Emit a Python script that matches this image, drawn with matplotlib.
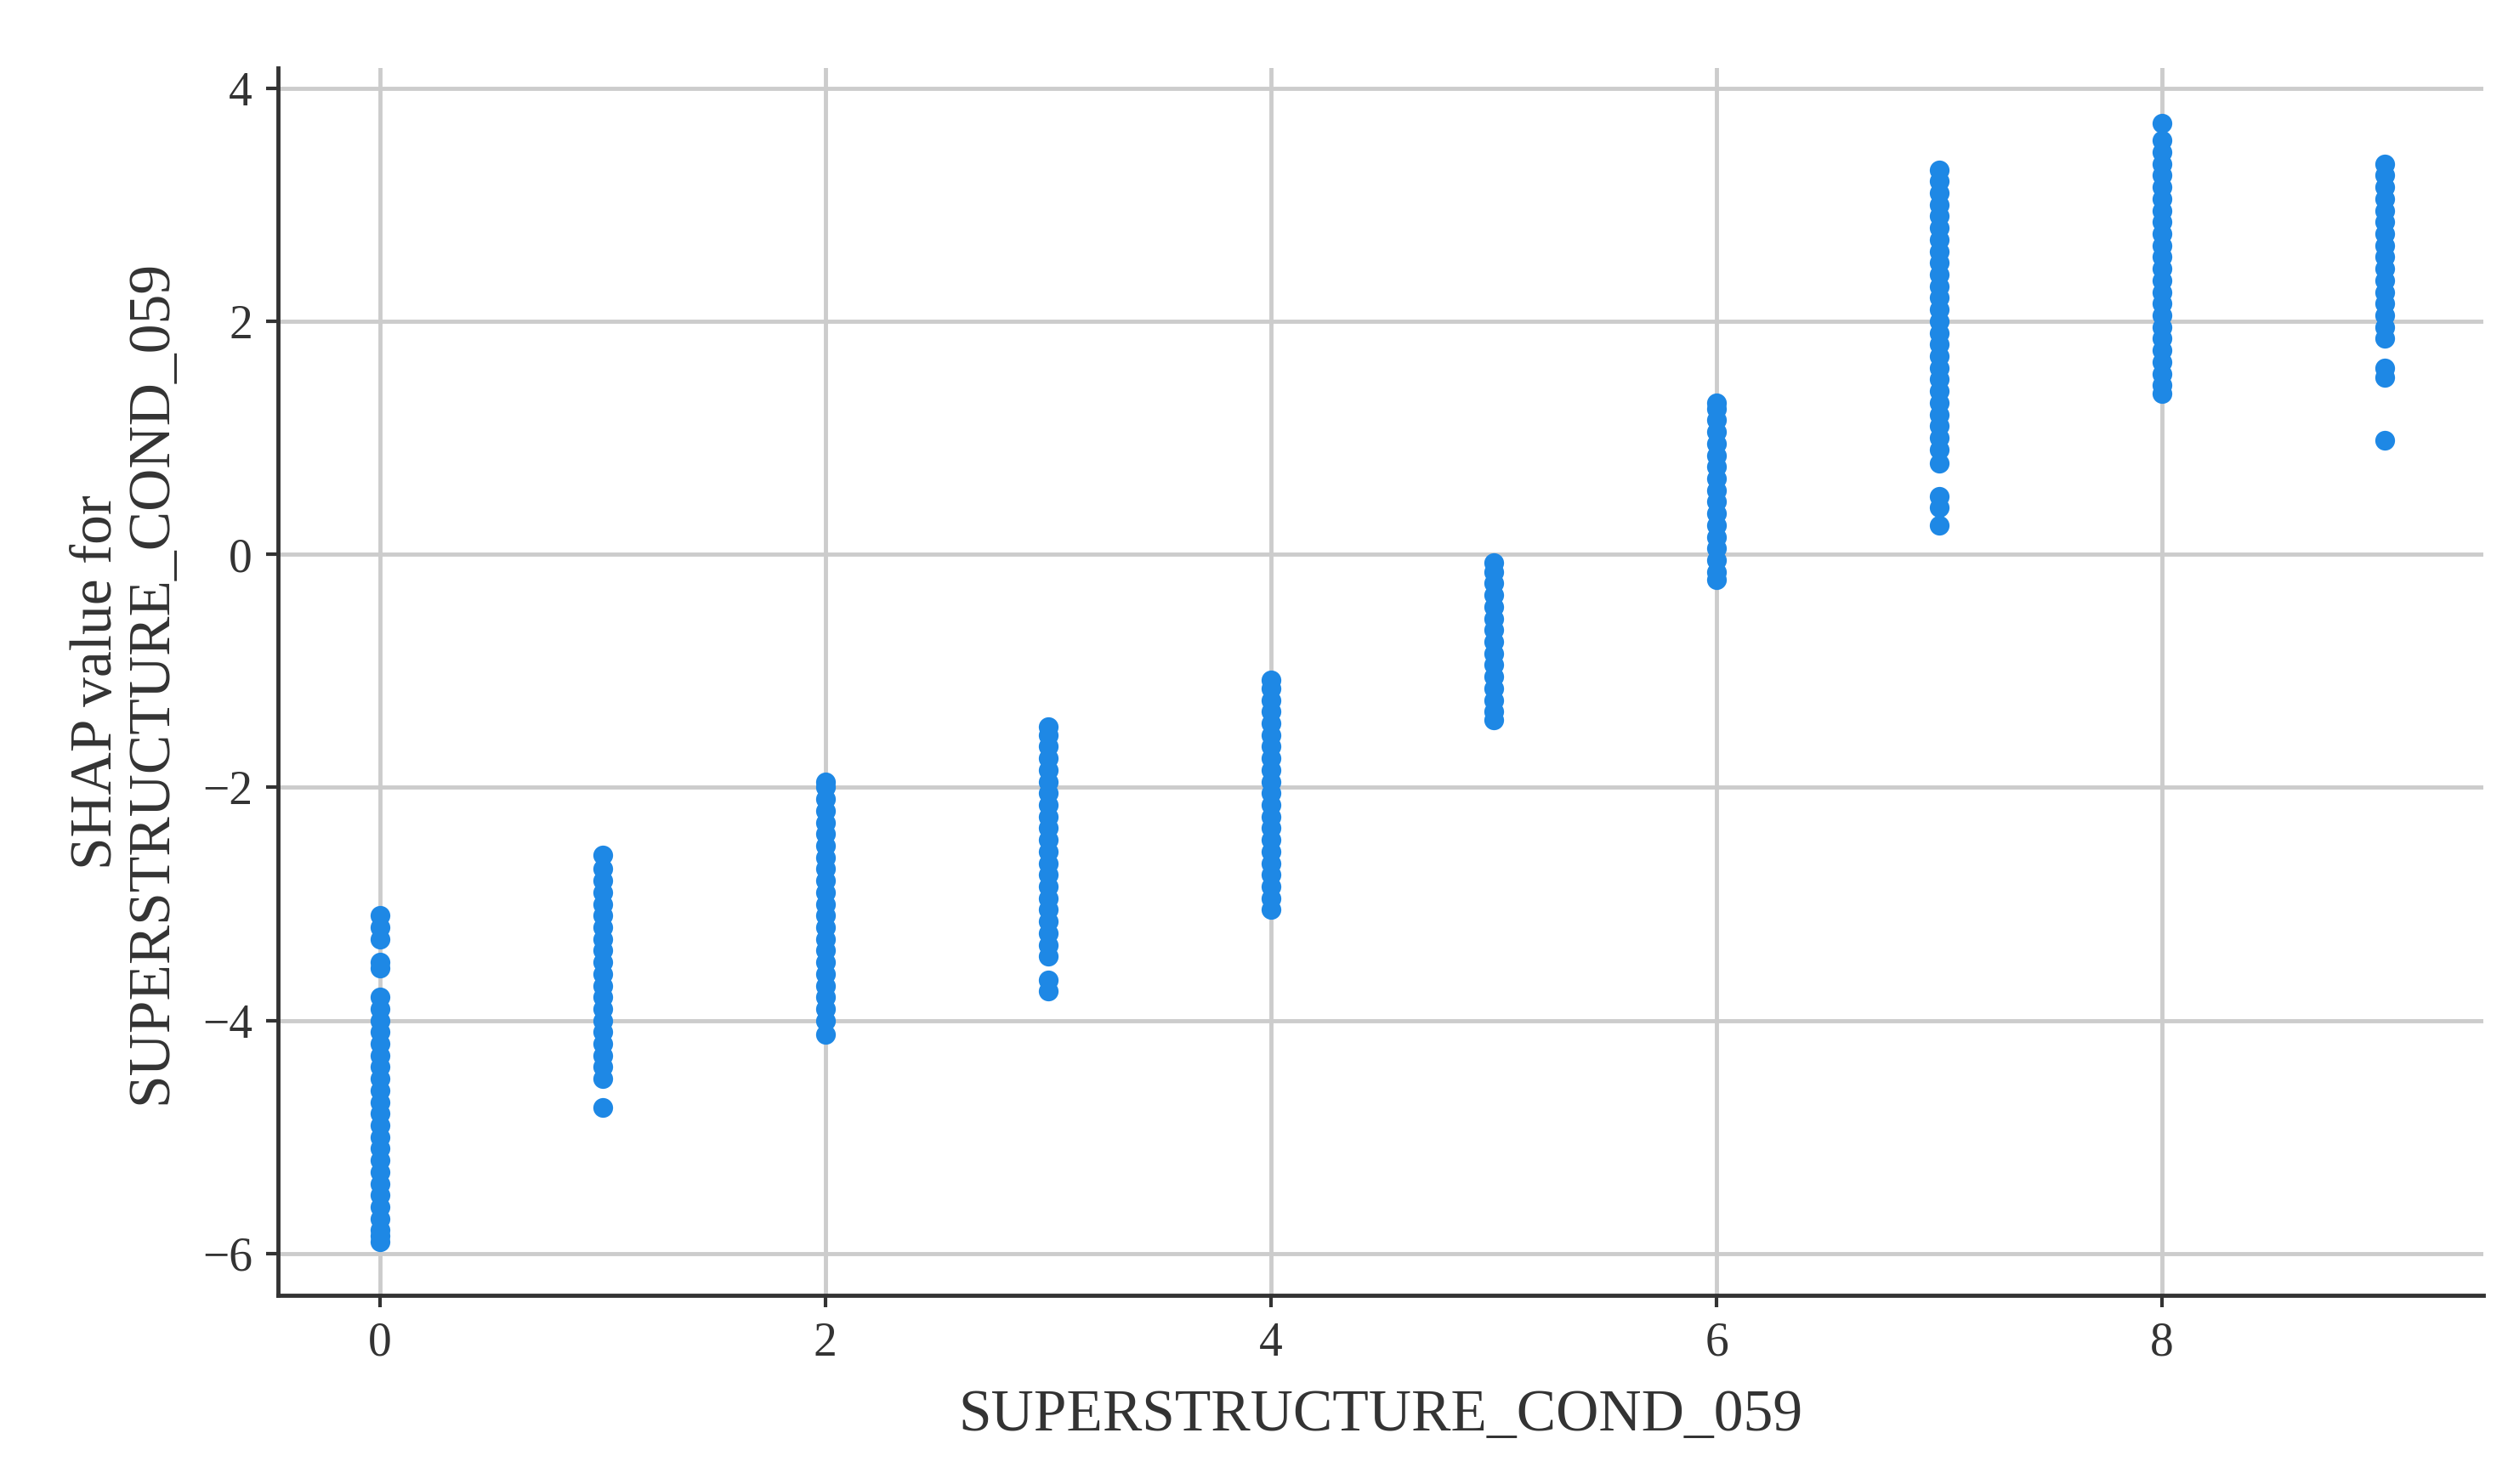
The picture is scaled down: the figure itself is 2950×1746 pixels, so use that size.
import matplotlib
matplotlib.use("Agg")
import matplotlib.pyplot as plt

feature_values = [0, 1, 2, 3, 4, 5, 6, 7, 8, 9]
shap_values = [
    [-5.9, -5.85, -5.8, -5.7, -5.6, -5.5, -5.4, -5.3, -5.2, -5.1, -5.0, -4.9, -4.8, -4.7, -4.6, -4.5, -4.4, -4.3, -4.2, -4.1, -4.0, -3.9, -3.8, -3.55, -3.5, -3.3, -3.2, -3.1],
    [-4.75, -4.5, -4.4, -4.3, -4.2, -4.1, -4.0, -3.9, -3.8, -3.7, -3.6, -3.5, -3.4, -3.3, -3.2, -3.1, -3.0, -2.9, -2.8, -2.7, -2.58],
    [-4.12, -4.0, -3.9, -3.8, -3.7, -3.6, -3.5, -3.4, -3.3, -3.2, -3.1, -3.0, -2.9, -2.8, -2.7, -2.6, -2.5, -2.4, -2.3, -2.2, -2.1, -2.0, -1.95],
    [-3.75, -3.65, -3.45, -3.35, -3.25, -3.15, -3.05, -2.95, -2.85, -2.75, -2.65, -2.55, -2.45, -2.35, -2.25, -2.15, -2.05, -1.95, -1.85, -1.75, -1.65, -1.55, -1.48],
    [-3.05, -2.95, -2.85, -2.75, -2.65, -2.55, -2.45, -2.35, -2.25, -2.15, -2.05, -1.95, -1.85, -1.75, -1.65, -1.55, -1.45, -1.35, -1.25, -1.15, -1.08],
    [-1.42, -1.35, -1.25, -1.15, -1.05, -0.95, -0.85, -0.75, -0.65, -0.55, -0.45, -0.35, -0.25, -0.15, -0.07],
    [-0.22, -0.15, -0.05, 0.05, 0.15, 0.25, 0.35, 0.45, 0.55, 0.65, 0.75, 0.85, 0.95, 1.05, 1.15, 1.25, 1.3],
    [0.25, 0.4, 0.5, 0.78, 0.9, 1.0, 1.1, 1.2, 1.3, 1.4, 1.5, 1.6, 1.7, 1.8, 1.9, 2.0, 2.1, 2.2, 2.3, 2.4, 2.5, 2.6, 2.7, 2.8, 2.9, 3.0, 3.1, 3.2, 3.3],
    [1.38, 1.45, 1.55, 1.65, 1.75, 1.85, 1.95, 2.05, 2.15, 2.25, 2.35, 2.45, 2.55, 2.65, 2.75, 2.85, 2.95, 3.05, 3.15, 3.25, 3.35, 3.45, 3.55, 3.7],
    [0.98, 1.52, 1.6, 1.85, 1.95, 2.05, 2.15, 2.25, 2.35, 2.45, 2.55, 2.65, 2.75, 2.85, 2.95, 3.05, 3.15, 3.25, 3.35],
]

plt.rcParams['font.family'] = ['Liberation Serif', 'DejaVu Serif']
fig = plt.figure(figsize=(29.5, 17.46), dpi=100)
ax = fig.add_axes([0.111, 0.127, 0.879, 0.827])

for xv, ys in zip(feature_values, shap_values):
    ax.scatter([xv] * len(ys), ys, s=280, color='#1E88E5', linewidths=0, zorder=3)

ax.set_xlim(-0.455, 9.44)
ax.set_ylim(-6.36, 4.17)
ax.set_xticks([0, 2, 4, 6, 8])
ax.set_yticks([-6, -4, -2, 0, 2, 4])
ax.set_yticklabels(['\u22126', '\u22124', '\u22122', '0', '2', '4'])
ax.grid(True, color='#cccccc', linewidth=3.5, zorder=0)
ax.set_axisbelow(True)
for s in ['top', 'right']:
    ax.spines[s].set_visible(False)
for s in ['left', 'bottom']:
    ax.spines[s].set_linewidth(3.5)
    ax.spines[s].set_color('#333333')
ax.tick_params(axis='both', labelsize=40, colors='#333333', length=10, width=3, pad=12)
ax.set_xlabel('SUPERSTRUCTURE_COND_059', fontsize=50, color='#333333', labelpad=20)
ax.set_ylabel('SHAP value for\nSUPERSTRUCTURE_COND_059', fontsize=50, color='#333333', labelpad=20, linespacing=1.0)

fig.savefig('out.png', dpi=100, facecolor='white')
